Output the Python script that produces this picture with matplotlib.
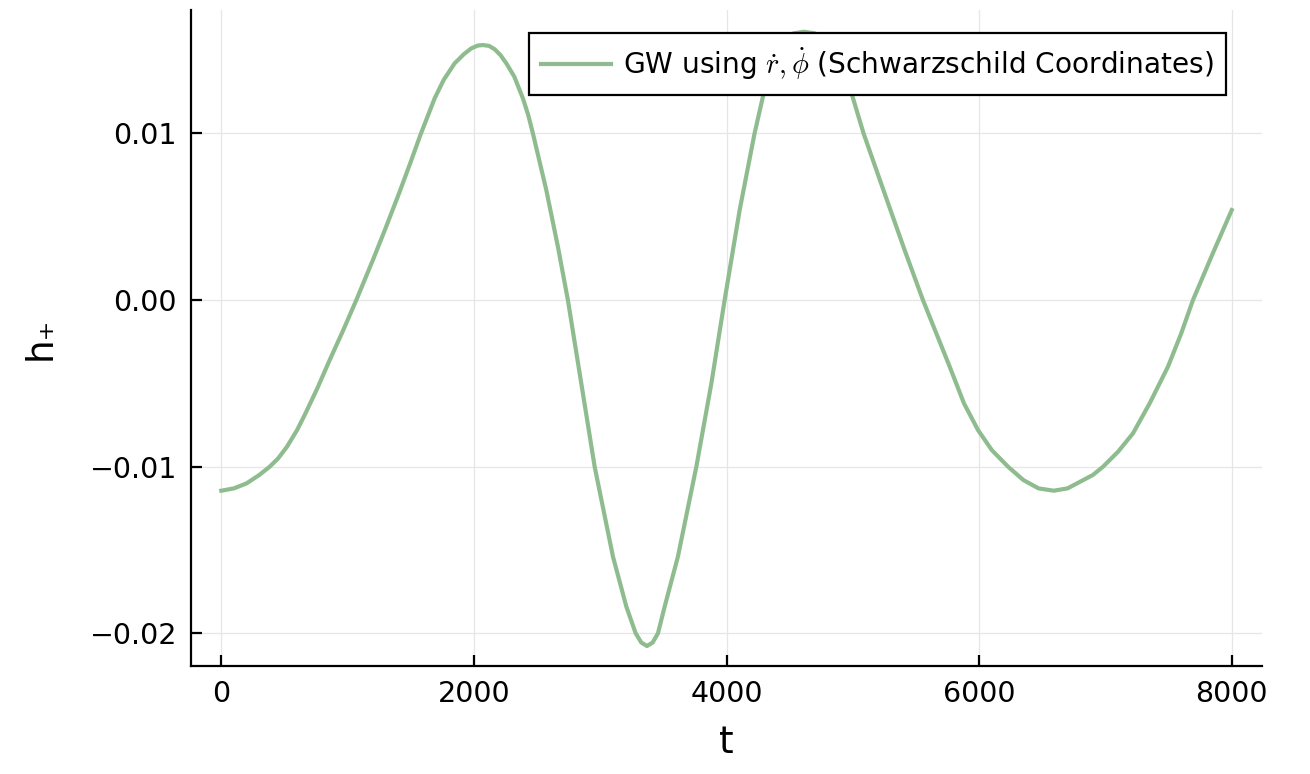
import numpy as np
import matplotlib
matplotlib.use("Agg")
import matplotlib.pyplot as plt
from matplotlib.ticker import FuncFormatter

# ---- values ---------------------------------------------------------------
t = [0, 100, 200, 300, 383, 450, 520, 600, 660, 760, 858, 960, 1069,
     1200, 1300, 1412, 1500, 1576, 1689, 1760, 1847, 1920, 1979, 2030, 2071,
     2120, 2164, 2210, 2257, 2320, 2388, 2430, 2467, 2573, 2665, 2744, 2850,
     2956, 3101, 3207, 3281, 3325, 3370, 3415, 3457, 3510, 3615, 3761, 3880,
     3985, 4104, 4222, 4294, 4370, 4450, 4530, 4612, 4700, 4800, 4900, 4990,
     5085, 5270, 5410, 5555, 5767, 5880, 5991, 6100, 6229, 6350, 6470, 6591,
     6700, 6800, 6900, 6981, 7100, 7218, 7350, 7495, 7600, 7693, 7850, 8000]
h_plus = [-0.01144, -0.0113, -0.0110, -0.0105, -0.0100, -0.0095, -0.0088,
          -0.0078, -0.0069, -0.0053, -0.0036, -0.0019, 0.0,
          0.0024, 0.0043, 0.0065, 0.0083, 0.0099, 0.0121, 0.0132, 0.0142,
          0.01475, 0.0151, 0.01527, 0.0153,
          0.01525, 0.01505, 0.0147, 0.0142, 0.0134, 0.0121, 0.0111, 0.0100,
          0.0066, 0.0032, 0.0, -0.0050,
          -0.0100, -0.0154, -0.0184, -0.0200, -0.02055, -0.02076, -0.02055,
          -0.0200, -0.0184, -0.0154, -0.0100, -0.0050,
          0.0, 0.0054, 0.0100, 0.0124, 0.0140, 0.0152, 0.0160, 0.0161, 0.0160,
          0.01526, 0.0140, 0.0124,
          0.0100, 0.0060, 0.0030, 0.0, -0.0040, -0.0062, -0.0078, -0.0090,
          -0.0100, -0.0108, -0.0113, -0.01144,
          -0.0113, -0.0109, -0.0105, -0.0100, -0.0091, -0.0080, -0.0062,
          -0.0040, -0.0020, 0.0, 0.0028, 0.0054]

xticks = [0, 2000, 4000, 6000, 8000]
yticks = [-0.02, -0.01, 0.00, 0.01]
label = r"GW using $\dot{r}, \dot{\phi}$ (Schwarzschild Coordinates)"

plt.rcParams["mathtext.fontset"] = "cm"
plt.rcParams["font.family"] = "DejaVu Sans"

fig = plt.figure(figsize=(13.1, 7.74), dpi=100)
ax = fig.add_axes([0.1458, 0.1395, 0.9634 - 0.1458, 0.987 - 0.1395])

ax.plot(t, h_plus, color="#8fbc8f", lw=3.0, label=label, solid_joinstyle="round")

ax.set_xlim(-240, 8240)
ax.set_ylim(-0.02196, 0.0174)
ax.set_xticks(xticks)
ax.set_yticks(yticks)
ax.yaxis.set_major_formatter(FuncFormatter(lambda v, p: f"{v:.2f}".replace("-", "\u2212")))
ax.grid(True, color="#e6e6e6", lw=0.9)
ax.set_axisbelow(True)

for s in ("top", "right"):
    ax.spines[s].set_visible(False)
for s in ("left", "bottom"):
    ax.spines[s].set_linewidth(1.6)
ax.tick_params(direction="in", length=8, width=1.6, labelsize=20.5, pad=10)

ax.set_xlabel("t", fontsize=27, labelpad=12)
ax.set_ylabel("h\u208a", fontsize=27, labelpad=22)

leg = ax.legend(loc="upper right", bbox_to_anchor=(0.9665, 0.965), fontsize=20.2,
                fancybox=False, framealpha=1, edgecolor="black",
                handlelength=2.5, handletextpad=0.4, borderpad=0.45,
                borderaxespad=0)
leg.get_frame().set_linewidth(1.6)

fig.savefig("out.png", dpi=100)
